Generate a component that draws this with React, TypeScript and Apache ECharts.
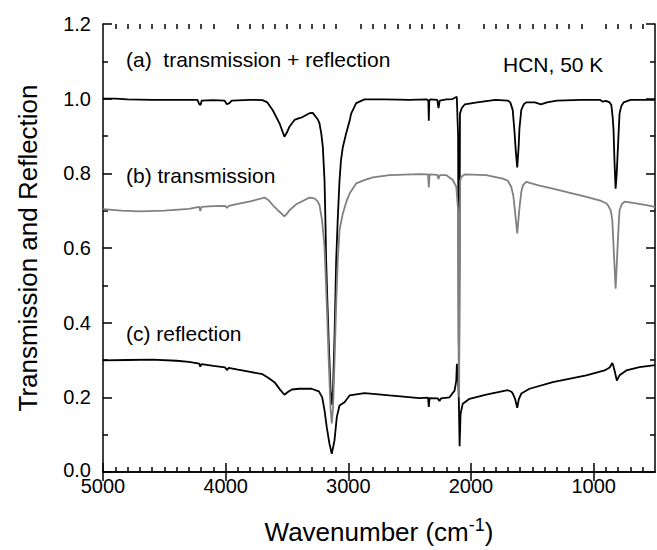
import React, { useEffect, useRef } from "react";
import * as echarts from "echarts";

// ---- data (wavenumber cm^-1, value) ----
const wnA = [5000,4900,4800,4600,4400,4230,4215,4205,4195,4100,4010,3990,3970,3950,3800,3700,3660,3616,3561,3521,3500,3480,3439,3400,3384,3317,3290,3276,3250,3235,3220,3208,3194,3186,3181,3170,3160,3145,3135,3125,3112,3099,3086,3072,3060,3045,3018,2990,2977,2936,2868,2700,2500,2360,2348,2344,2340,2330,2275,2265,2255,2200,2150,2116,2105,2100,2097,2093,2090,2075,2050,1950,1800,1700,1680,1660,1645,1635,1623,1612,1605,1590,1570,1550,1480,1430,1380,1300,1100,950,925,900,870,856,845,838,830,821,812,802,795,789,775,756,700,500];
const valA = [1.0,1.0,0.998,0.997,0.997,0.997,0.985,0.983,0.995,0.996,0.995,0.985,0.988,0.995,0.997,0.996,0.99,0.969,0.934,0.898,0.91,0.925,0.943,0.948,0.949,0.961,0.962,0.956,0.945,0.934,0.905,0.871,0.78,0.66,0.567,0.45,0.35,0.22,0.18,0.22,0.37,0.567,0.68,0.78,0.835,0.87,0.907,0.94,0.96,0.988,0.998,0.998,0.997,0.998,0.995,0.941,0.995,0.998,0.997,0.975,0.995,0.998,0.999,1.005,0.9,0.35,0.3,0.6,0.96,0.975,0.985,0.99,0.997,0.995,0.99,0.97,0.91,0.86,0.816,0.87,0.92,0.97,0.985,0.99,0.99,0.985,0.99,0.995,0.997,0.997,0.992,0.994,0.99,0.983,0.95,0.916,0.83,0.759,0.8,0.871,0.92,0.96,0.98,0.99,0.997,0.997];

const wnB = [5000,4850,4700,4500,4300,4215,4207,4198,4100,4005,3990,3975,3900,3800,3684,3650,3616,3561,3521,3500,3480,3425,3360,3317,3276,3250,3235,3214,3194,3176,3160,3145,3135,3125,3112,3099,3086,3072,3045,3015,2990,2936,2870,2800,2664,2420,2350,2344,2338,2275,2265,2255,2200,2148,2120,2105,2100,2097,2094,2088,2080,2053,1876,1740,1700,1672,1655,1645,1623,1604,1590,1577,1550,1450,1333,1200,1060,938,900,884,860,848,835,821,805,795,789,770,748,680,571,500];
const valB = [0.704,0.7,0.698,0.7,0.705,0.71,0.699,0.71,0.712,0.713,0.707,0.713,0.718,0.725,0.735,0.728,0.715,0.697,0.685,0.692,0.701,0.717,0.728,0.735,0.733,0.725,0.715,0.674,0.603,0.45,0.3,0.17,0.13,0.17,0.3,0.45,0.567,0.648,0.692,0.725,0.746,0.773,0.782,0.789,0.795,0.798,0.797,0.762,0.797,0.796,0.785,0.795,0.795,0.782,0.764,0.7,0.25,0.2,0.5,0.78,0.79,0.797,0.795,0.786,0.78,0.764,0.74,0.71,0.639,0.71,0.75,0.768,0.777,0.768,0.759,0.748,0.737,0.726,0.72,0.715,0.7,0.674,0.585,0.491,0.603,0.67,0.701,0.718,0.724,0.721,0.715,0.71];

const wnC = [5000,4800,4600,4400,4300,4215,4207,4198,4100,4005,3990,3975,3900,3800,3700,3650,3600,3560,3521,3490,3460,3400,3300,3240,3213,3194,3176,3154,3135,3113,3094,3072,3031,2990,2868,2664,2420,2350,2344,2338,2270,2257,2245,2175,2134,2120,2115,2105,2099,2093,2085,2067,2012,1876,1700,1670,1659,1640,1623,1610,1590,1523,1333,1060,911,870,848,840,830,811,800,789,734,626,500];
const valC = [0.299,0.3,0.301,0.298,0.295,0.29,0.282,0.289,0.284,0.28,0.273,0.279,0.274,0.268,0.262,0.252,0.24,0.222,0.207,0.215,0.221,0.223,0.223,0.216,0.2,0.165,0.12,0.076,0.049,0.084,0.147,0.178,0.187,0.205,0.211,0.205,0.198,0.199,0.174,0.198,0.197,0.19,0.197,0.2,0.218,0.245,0.29,0.25,0.19,0.069,0.156,0.183,0.196,0.207,0.219,0.215,0.21,0.195,0.172,0.195,0.21,0.223,0.241,0.259,0.272,0.28,0.292,0.285,0.272,0.245,0.252,0.259,0.272,0.281,0.286];

const xMajorTicks = [5000, 4000, 3000, 2000, 1000];
const xMinorTicks: number[] = [];
for (let v = 600; v < 5000; v += 100) if (v % 1000 !== 0) xMinorTicks.push(v);

const annotations = [
  { text: "(a)  transmission + reflection", x: 126, y: 59 },
  { text: "HCN, 50 K", x: 503, y: 64 },
  { text: "(b) transmission", x: 126, y: 175 },
  { text: "(c) reflection", x: 126, y: 333 },
];

const FONT = "'Liberation Sans', Arial, Helvetica, sans-serif";

function zip(xs: number[], ys: number[]) {
  return xs.map((x, i) => [x, ys[i]]);
}

export default function App() {
  const ref = useRef<HTMLDivElement>(null);
  useEffect(() => {
    if (!ref.current) return;
    const chart = echarts.init(ref.current, null, { renderer: "svg" });
    const tickStyle = { color: "#000", width: 1.5 };
    const axisLine = { show: true, lineStyle: { color: "#000", width: 1.5 } };
    const gridRect = { left: 103, right: 2, top: 24, bottom: 78 };

    const xAxisDef = (
      gridIndex: number,
      pos: "top" | "bottom",
      ticks: number[],
      len: number,
      labels: boolean
    ) => ({
      type: "value" as const,
      gridIndex,
      position: pos,
      min: 500,
      max: 5000,
      inverse: true,
      splitLine: { show: false },
      axisLine: gridIndex === 0 ? axisLine : { show: false },
      axisTick: { show: true, inside: true, length: len, customValues: ticks, lineStyle: tickStyle },
      axisLabel: labels
        ? {
            show: true,
            customValues: xMajorTicks,
            fontSize: 20,
            color: "#000",
            fontFamily: FONT,
            margin: 4,
            formatter: (v: number) => String(v),
          }
        : { show: false },
    });

    const yAxisDef = (gridIndex: number, pos: "left" | "right", labels: boolean) => ({
      type: "value" as const,
      gridIndex,
      position: pos,
      min: 0,
      max: 1.2,
      interval: 0.2,
      splitLine: { show: false },
      axisLine: gridIndex === 0 ? axisLine : { show: false },
      axisTick: { show: gridIndex === 0, inside: true, length: 9, lineStyle: tickStyle },
      minorTick: { show: gridIndex === 0, splitNumber: 2, length: 5, lineStyle: tickStyle },
      axisLabel: labels
        ? {
            show: true,
            fontSize: 20,
            color: "#000",
            fontFamily: FONT,
            margin: 12,
            formatter: (v: number) => (v === 0 ? "{z|0.0}" : v.toFixed(1)),
            rich: { z: { fontSize: 20, color: "#000", fontFamily: FONT, padding: [0, 0, 5, 0] } },
          }
        : { show: false },
    });

    const xMain = {
      ...xAxisDef(0, "bottom", xMajorTicks, 9, true),
      name: "Wavenumber (cm{sup|-1})",
      nameLocation: "middle",
      nameGap: 44,
      nameTextStyle: {
        fontSize: 26,
        color: "#000",
        fontFamily: FONT,
        rich: {
          sup: { fontSize: 18, color: "#000", fontFamily: FONT, verticalAlign: "top", padding: [0, 0, 14, 0] },
        },
      },
    };
    const yMain = {
      ...yAxisDef(0, "left", true),
      name: "Transmission and Reflection",
      nameLocation: "middle",
      nameGap: 62,
      nameTextStyle: { fontSize: 26, color: "#000", fontFamily: FONT },
    };

    chart.setOption({
      animation: false,
      backgroundColor: "#fff",
      grid: [gridRect, gridRect],
      xAxis: [
        xMain,
        xAxisDef(0, "top", xMajorTicks, 9, false),
        xAxisDef(1, "bottom", xMinorTicks, 5, false),
        xAxisDef(1, "top", xMinorTicks, 5, false),
      ],
      yAxis: [yMain, yAxisDef(0, "right", false), yAxisDef(1, "left", false)],
      graphic: annotations.map((a) => ({
        type: "text",
        x: a.x,
        y: a.y,
        style: { text: a.text, font: `21px ${FONT}`, fill: "#000", verticalAlign: "middle" },
        silent: true,
      })),
      series: [
        {
          type: "line",
          data: zip(wnC, valC),
          showSymbol: false,
          lineStyle: { color: "#000", width: 1.8 },
          xAxisIndex: 0,
          yAxisIndex: 0,
        },
        {
          type: "line",
          data: zip(wnA, valA),
          showSymbol: false,
          lineStyle: { color: "#000", width: 1.8 },
          xAxisIndex: 0,
          yAxisIndex: 0,
        },
        {
          type: "line",
          data: zip(wnB, valB),
          showSymbol: false,
          lineStyle: { color: "#808080", width: 1.8 },
          xAxisIndex: 0,
          yAxisIndex: 0,
        },
        {
          type: "line",
          data: [],
          showSymbol: false,
          xAxisIndex: 2,
          yAxisIndex: 2,
        },
      ],
    });
    return () => chart.dispose();
  }, []);
  return (
    <div
      ref={ref}
      style={{ position: "fixed", left: 0, top: 0, width: 657, height: 550, background: "#fff" }}
    />
  );
}
